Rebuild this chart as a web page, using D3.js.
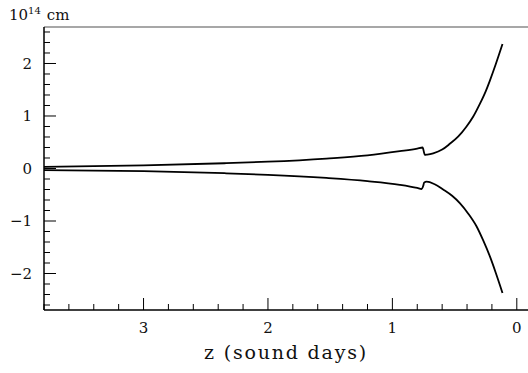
<!DOCTYPE html>
<html>
<head>
<meta charset="utf-8">
<script src="https://cdn.jsdelivr.net/npm/d3@7"></script>
<style>
  html, body { margin: 0; padding: 0; background: #fff; }
  svg { display: block; }
  text { font-family: "DejaVu Serif", "Liberation Serif", serif; fill: #111; }
</style>
</head>
<body>
<svg id="chart" width="528" height="373"></svg>
<script>
// Distance along z (sound days) for each sample of the two boundary curves
const zUpper = [3.80, 3.0, 2.35, 2.0, 1.53, 1.2, 0.94, 0.80, 0.757, 0.745, 0.739, 0.72, 0.672, 0.60, 0.538, 0.47, 0.404, 0.35, 0.297, 0.25, 0.217, 0.17, 0.115];
const upper  = [0.03, 0.06, 0.10, 0.13, 0.19, 0.25, 0.33, 0.38, 0.40, 0.30, 0.26, 0.265, 0.29, 0.36, 0.47, 0.61, 0.80, 0.99, 1.23, 1.47, 1.67, 1.98, 2.37];

const zLower = [3.80, 3.0, 2.35, 2.0, 1.53, 1.2, 0.94, 0.80, 0.765, 0.752, 0.745, 0.725, 0.66, 0.592, 0.52, 0.458, 0.39, 0.324, 0.27, 0.217, 0.17, 0.115];
const lower  = [-0.03, -0.05, -0.09, -0.12, -0.18, -0.24, -0.31, -0.37, -0.39, -0.33, -0.27, -0.25, -0.30, -0.40, -0.52, -0.66, -0.86, -1.10, -1.37, -1.67, -1.98, -2.37];

// Axis ticks
const xMajorTicks = [3, 2, 1, 0];
const yMajorTicks = [-2, -1, 0, 1, 2];
const yTickLabels = ["\u22122", "\u22121", "0", "1", "2"];

const svg = d3.select("#chart");
const m = { left: 44, right: 528, top: 27, bottom: 310 };

const x = d3.scaleLinear().domain([3.8, -0.09]).range([m.left, m.right]);
const y = d3.scaleLinear().domain([-2.695, 2.695]).range([m.bottom, m.top]);

const xMinor = d3.range(0, 3.81, 0.2).map(v => +v.toFixed(1)).filter(v => !xMajorTicks.includes(v));
const yMinor = d3.range(-2.6, 2.61, 0.2).map(v => +v.toFixed(1)).filter(v => !yMajorTicks.includes(v));

// Top frame line
svg.append("line")
  .attr("x1", m.left).attr("x2", m.right).attr("y1", m.top).attr("y2", m.top)
  .attr("stroke", "#8a8a8a").attr("stroke-width", 1.5);

// Bottom axis: ticks point inward (up)
const xAxis = svg.append("g").attr("transform", `translate(0,${m.bottom})`);
xAxis.append("line").attr("x1", m.left).attr("x2", m.right).attr("stroke", "#000").attr("stroke-width", 1.5);
xAxis.selectAll(".xmin").data(xMinor).join("line").attr("class", "xmin")
  .attr("x1", d => x(d)).attr("x2", d => x(d)).attr("y1", 0).attr("y2", -6)
  .attr("stroke", "#000").attr("stroke-width", 1);
xAxis.selectAll(".xmaj").data(xMajorTicks).join("line").attr("class", "xmaj")
  .attr("x1", d => x(d)).attr("x2", d => x(d)).attr("y1", 0).attr("y2", -12)
  .attr("stroke", "#000").attr("stroke-width", 1);
xAxis.selectAll("text").data(xMajorTicks).join("text")
  .attr("x", d => x(d)).attr("y", 23)
  .attr("text-anchor", "middle").attr("font-size", 15)
  .text(d => d);

// Left axis: ticks point inward (right)
const yAxis = svg.append("g").attr("transform", `translate(${m.left},0)`);
yAxis.append("line").attr("y1", m.top).attr("y2", m.bottom).attr("stroke", "#000").attr("stroke-width", 1.5);
yAxis.selectAll(".ymin").data(yMinor).join("line").attr("class", "ymin")
  .attr("y1", d => y(d)).attr("y2", d => y(d)).attr("x1", 0).attr("x2", 6)
  .attr("stroke", "#000").attr("stroke-width", 1);
yAxis.selectAll(".ymaj").data(yMajorTicks).join("line").attr("class", "ymaj")
  .attr("y1", d => y(d)).attr("y2", d => y(d)).attr("x1", 0).attr("x2", 12)
  .attr("stroke", "#000").attr("stroke-width", 1);
yAxis.selectAll("text").data(yMajorTicks).join("text")
  .attr("x", -12).attr("y", d => y(d)).attr("dy", "0.35em")
  .attr("text-anchor", "end").attr("font-size", 15)
  .text((d, i) => yTickLabels[i]);

// Axis titles
svg.append("text")
  .attr("x", (m.left + m.right) / 2).attr("y", 359)
  .attr("text-anchor", "middle").attr("font-size", 19)
  .attr("letter-spacing", 1.8)
  .text("z (sound days)");

const unit = svg.append("text").attr("x", 9).attr("y", 20).attr("font-size", 15);
unit.append("tspan").text("10");
unit.append("tspan").attr("font-size", 10).attr("dy", -6).text("14");
unit.append("tspan").attr("dy", 6).attr("dx", 6).text("cm");

// Boundary curves
const line = d3.line()
  .x(d => x(d[0]))
  .y(d => y(d[1]))
  .curve(d3.curveMonotoneX);

svg.append("path").datum(d3.zip(zUpper, upper))
  .attr("d", line).attr("fill", "none").attr("stroke", "#000").attr("stroke-width", 1.8);
svg.append("path").datum(d3.zip(zLower, lower))
  .attr("d", line).attr("fill", "none").attr("stroke", "#000").attr("stroke-width", 1.8);
</script>
</body>
</html>
